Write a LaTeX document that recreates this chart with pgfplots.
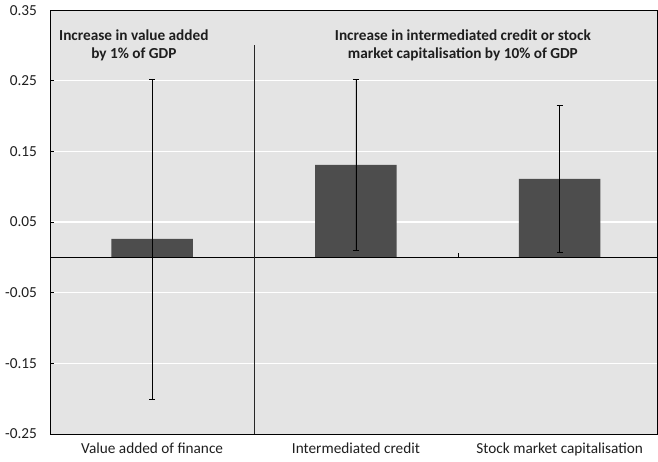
\documentclass[border=0pt]{standalone}
\usepackage{pgfplots}
\pgfplotsset{compat=1.18}
\usepackage{fontspec}
\setmainfont{Carlito}
\definecolor{plotbg}{RGB}{228,228,228}
\definecolor{barc}{RGB}{77,77,77}
\definecolor{txt}{RGB}{30,30,30}
\begin{document}
\fontsize{15}{17}\selectfont
\begin{tikzpicture}
\begin{axis}[
  scale only axis,
  width=596pt, height=416pt,
  xmin=-0.5, xmax=2.48,
  ymin=-0.25, ymax=0.35,
  axis background/.style={fill=plotbg},
  axis line style={black, line width=0.8pt},
  xtick={0,1,2},
  xticklabels={Value added of finance, Intermediated credit, Stock market capitalisation},
  x tick style={draw=none},
  xticklabel style={text=txt, yshift=0pt},
  ytick={-0.15,-0.05,0.05,0.15,0.25},
  extra y ticks={-0.25,0.35},
  extra y tick style={grid=none},
  ytick pos=left,
  ymajorgrids,
  grid style={white, line width=1pt},
  yticklabel style={text=txt, xshift=-8pt, /pgf/number format/.cd, fixed, fixed zerofill, precision=2},
  /pgf/number format/assume math mode=true,
  y tick style={black, line width=0.6pt},
  tick align=inside,
  major tick length=4pt,
  ybar, bar width=80pt,
  clip=false,
]
\addplot[fill=barc, draw=none,
  error bars/.cd, y dir=both, y explicit,
  error bar style={black, line width=0.8pt},
  error mark options={rotate=90, mark size=3pt, black, line width=0.8pt}]
  coordinates {(0,0.026) +- (0,0.2265) (1,0.131) +- (0,0.121) (2,0.111) +- (0,0.1046)};
\draw[black, line width=0.8pt] (axis cs:-0.5,0) -- (axis cs:2.48,0);
\draw[black!85, line width=1pt] (axis cs:0.5,0.30) -- (axis cs:0.5,-0.25);
\draw[black, line width=0.6pt] (axis cs:1.5,0) -- (axis cs:1.5,0.006);
\node[font=\bfseries, align=center, text=txt] at (axis cs:-0.09,0.30) {Increase in value added\\by 1\% of GDP};
\node[font=\bfseries, align=center, text=txt] at (axis cs:1.525,0.30) {Increase in intermediated credit or stock\\market capitalisation by 10\% of GDP};
\end{axis}
\end{tikzpicture}
\end{document}
